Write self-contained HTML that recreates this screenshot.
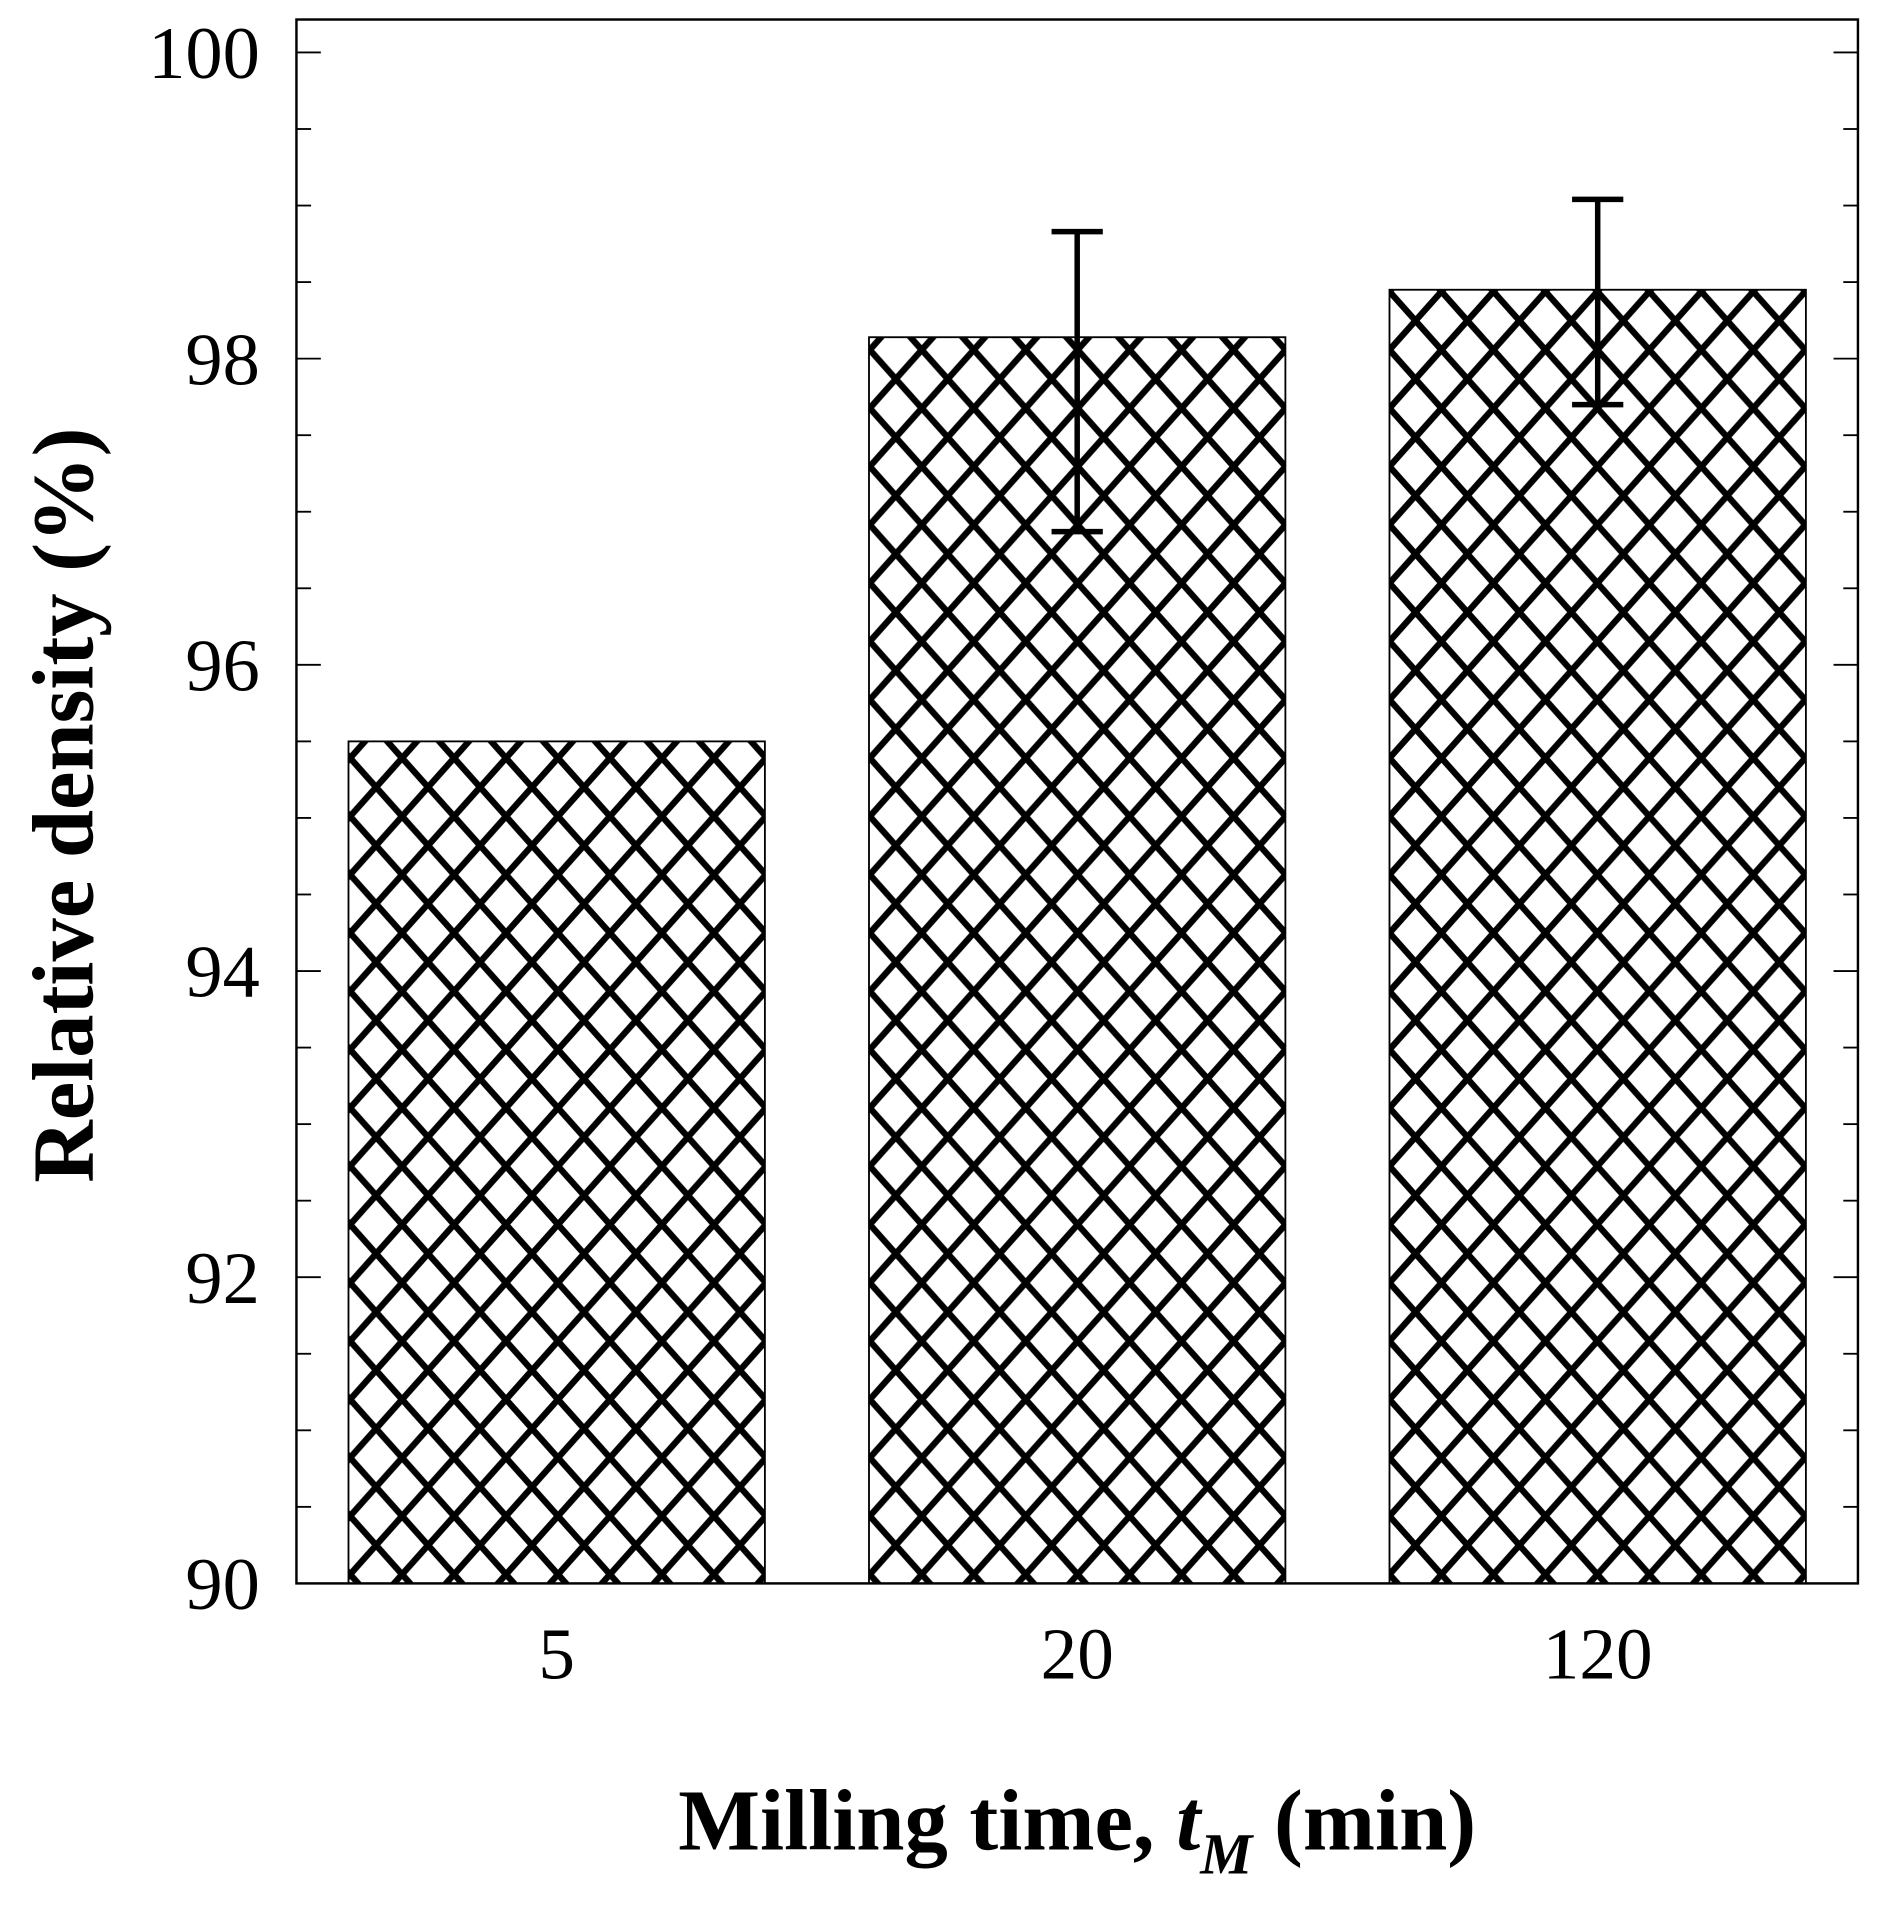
<!DOCTYPE html>
<html><head><meta charset="utf-8"><style>
html,body{margin:0;padding:0;background:#fff}
svg{display:block}
text{font-family:"Liberation Serif",serif;fill:#000}
</style></head><body>
<svg id="chart" width="1886" height="1914" viewBox="0 0 1546 1569" preserveAspectRatio="none" xmlns="http://www.w3.org/2000/svg">
<defs>
<pattern id="hatch" patternUnits="userSpaceOnUse" width="42.6" height="47.8" x="287" y="0">
<path d="M0,0 L42.6,47.8 M42.6,0 L0,47.8 M-21.3,23.9 L0,47.8 M-21.3,23.9 L0,0 M21.3,-23.9 L42.6,0 M21.3,71.7 L42.6,47.8" stroke="#000" stroke-width="5.2" fill="none"/>
</pattern>
</defs>
<g id="plot"></g>
</svg>
<script>
const categories = ["5", "20", "120"];
const values = [95.5, 98.14, 98.45];
const errUpper = [null, 98.83, 99.04];
const errLower = [null, 96.87, 97.70];
const yTicks = [90, 92, 94, 96, 98, 100];

const L = 243, R = 1523, T = 16, B = 1298;
const yMin = 90, yMax = 100;
const y100 = 43;
function yScale(v){ return B - (v - yMin) * (B - y100) / (yMax - yMin); }
const band = (R - L) / categories.length;
function xCenter(i){ return L + band * (i + 0.5); }
const barW = band * 0.8;

const svg = document.getElementById('chart');
const g = document.getElementById('plot');
const NS = 'http://www.w3.org/2000/svg';
function mk(tag, attrs){ const e = document.createElementNS(NS, tag); for (const k in attrs) e.setAttribute(k, attrs[k]); g.appendChild(e); return e; }

categories.forEach((c, i) => {
  const x0 = xCenter(i) - barW / 2, yt = yScale(values[i]);
  const r = mk('rect', {x: x0, y: yt, width: barW, height: B - yt, fill: 'url(#hatch)', stroke: '#000', 'stroke-width': 1.5});
  
  
  if (errUpper[i] !== null) {
    const xc = xCenter(i);
    const eg = document.createElementNS(NS, 'g');
    
    
    g.appendChild(eg);
    const yu = yScale(errUpper[i]), yl = yScale(errLower[i]);
    [[xc, yu, xc, yl], [xc - 21, yu, xc + 21, yu], [xc - 21, yl, xc + 21, yl]].forEach(p => {
      const l = document.createElementNS(NS, 'line');
      l.setAttribute('x1', p[0]); l.setAttribute('y1', p[1]); l.setAttribute('x2', p[2]); l.setAttribute('y2', p[3]);
      l.setAttribute('stroke', '#000'); l.setAttribute('stroke-width', 4.5);
      eg.appendChild(l);
    });
  }
  const t = mk('text', {x: xCenter(i), y: 1376, 'text-anchor': 'middle', 'font-size': 60});
  t.textContent = c;
  
  
});

const frame = mk('rect', {x: L, y: T, width: R - L, height: B - T, fill: 'none', stroke: '#000', 'stroke-width': 2});



for (let v = yMin; v <= yMax + 0.001; v += 0.5) {
  const y = yScale(v);
  const major = Math.abs(v - Math.round(v)) < 0.01 && Math.round(v) % 2 === 0;
  const len = major ? 20 : 12;
  mk('line', {x1: L, y1: y, x2: L + len, y2: y, stroke: '#000', 'stroke-width': 1.5});
  mk('line', {x1: R, y1: y, x2: R - len, y2: y, stroke: '#000', 'stroke-width': 1.5});
}
yTicks.forEach(v => {
  const t = mk('text', {x: 213, y: yScale(v) + 21, 'text-anchor': 'end', 'font-size': 61});
  t.textContent = v;
  
  
});

const xt = mk('text', {x: 883, y: 1516, 'text-anchor': 'middle', 'font-size': 71, 'font-weight': 'bold'});
xt.innerHTML = 'Milling time, <tspan font-style="italic">t</tspan><tspan font-style="italic" font-size="48" dy="20">M</tspan><tspan dy="-20"> (min)</tspan>';



const yt = mk('text', {x: 0, y: 0, 'text-anchor': 'middle', 'font-size': 71, 'font-weight': 'bold', transform: 'translate(76,660) rotate(-90)'});
yt.textContent = 'Relative density (%)';


</script>
</body></html>
